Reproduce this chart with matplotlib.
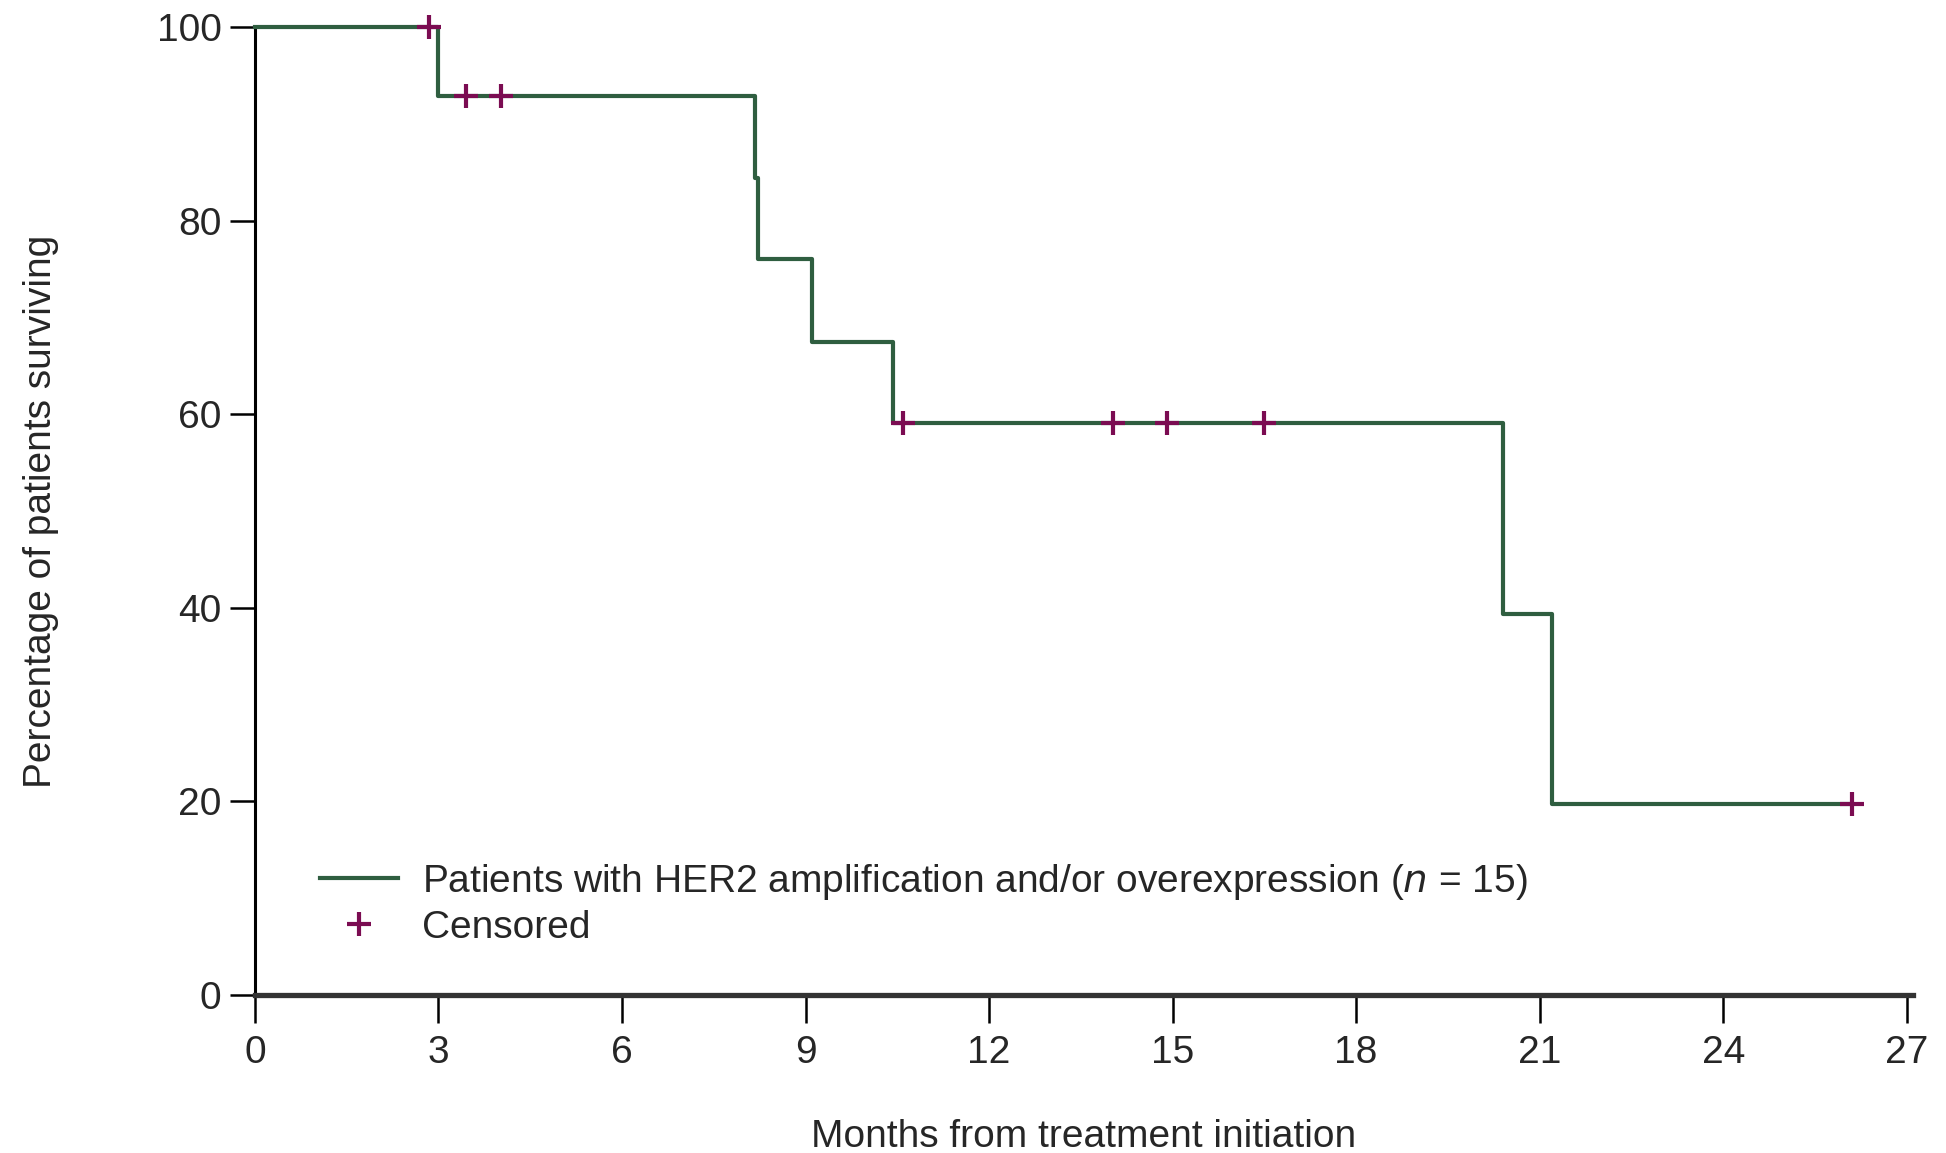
import numpy as np
import matplotlib.pyplot as plt
from matplotlib.lines import Line2D

# Kaplan-Meier steps
step_times = [0, 3.0, 8.18, 8.23, 9.1, 10.43, 20.4, 21.2, 26.1]
step_surv = [100, 92.9, 84.4, 76.0, 67.5, 59.1, 39.4, 19.7, 19.7]

censor_times = [2.84, 3.45, 4.03, 10.6, 14.03, 14.9, 16.5, 26.1]
censor_surv = [100, 92.9, 92.9, 59.1, 59.1, 59.1, 59.1, 19.7]

x_ticks = [0, 3, 6, 9, 12, 15, 18, 21, 24, 27]
y_ticks = [0, 20, 40, 60, 80, 100]

line_color = '#2f5e40'
censor_color = '#7b0c52'
text_color = '#262626'
fs = 28

plt.rcParams['font.family'] = ['Liberation Sans', 'DejaVu Sans']

fig = plt.figure(figsize=(19.46, 11.53), dpi=100)
ax = fig.add_axes([0.131, 0.137, 0.852, 0.8396])

ax.step(step_times, step_surv, where='post', color=line_color, lw=3.0, clip_on=False, zorder=3)
ax.plot(censor_times, censor_surv, ls='none', marker='+', ms=17, mew=3.0,
        color=censor_color, clip_on=False, zorder=4)

ax.set_xlim(0, 27.1)
ax.set_ylim(0, 100)
ax.set_xticks(x_ticks)
ax.set_yticks(y_ticks)

for s in ['top', 'right']:
    ax.spines[s].set_visible(False)
ax.spines['left'].set_linewidth(2.2)
ax.spines['left'].set_color('black')
ax.spines['bottom'].set_linewidth(3.8)
ax.spines['bottom'].set_color('#333333')
ax.spines['bottom'].set_zorder(5)

ax.tick_params(axis='both', direction='out', length=20, width=1.8, color='black',
               labelsize=fs, labelcolor=text_color, pad=9)
ax.tick_params(axis='y', length=18, pad=6)

ax.set_xlabel('Months from treatment initiation', fontsize=fs, color=text_color, labelpad=34)
ax.set_ylabel('Percentage of patients surviving', fontsize=fs, color=text_color, labelpad=70)

handles = [
    Line2D([], [], color=line_color, lw=3.0),
    Line2D([], [], ls='none', marker='+', ms=17, mew=3.0, color=censor_color),
]
labels = ['Patients with HER2 amplification and/or overexpression ($\\it{n}$ = 15)', 'Censored']
leg = ax.legend(handles, labels, loc='lower left', bbox_to_anchor=(0.018, 0.015),
                frameon=False, fontsize=fs, handlelength=2.0, handletextpad=0.64,
                labelspacing=0.2)
for t in leg.get_texts():
    t.set_color(text_color)

fig.savefig('out.png', dpi=100)
